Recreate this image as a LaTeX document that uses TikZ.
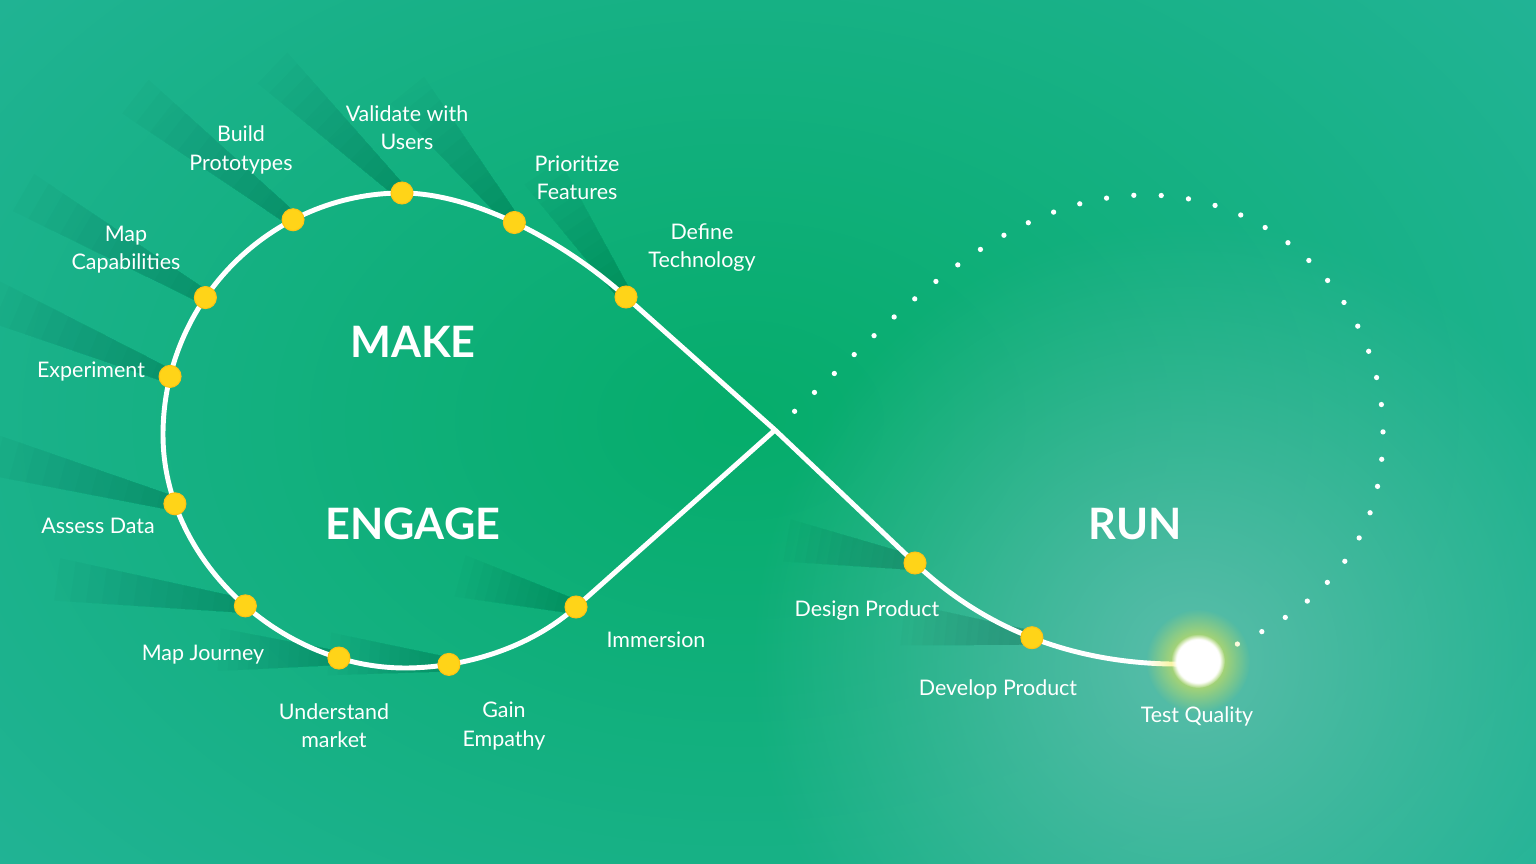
\documentclass[tikz,border=0pt]{standalone}
\usepackage{fontspec}
\setmainfont{Lato}
\usetikzlibrary{positioning,fadings}
\definecolor{bgteal}{HTML}{22B496}
\definecolor{bggreen}{HTML}{06AD6B}
\definecolor{bglight}{HTML}{5ABDAB}
\definecolor{dotyellow}{HTML}{FFD418}
\definecolor{shadowgreen}{HTML}{034A33}
\definecolor{glowyellow}{HTML}{F4EA45}
\tikzfading[name=softspot, inner color=transparent!0, outer color=transparent!100]
\pgfdeclarelayer{back}
\pgfdeclarelayer{shade}
\pgfsetlayers{back,shade,main}

\begin{document}
\begin{tikzpicture}[x=0.01cm,y=-0.01cm,
  milestone/.style={circle,fill=dotyellow,draw=dotyellow!80!orange,line width=0.3pt,minimum size=0.22cm,inner sep=0pt},
  tag/.style={text=white,font=\fontsize{6.1}{8}\selectfont,align=center},
  bigword/.style={text=white,font=\fontsize{12.3}{14}\selectfont\bfseries},
  road/.style={white,line width=1.4pt,line join=round},
  trail/.style={white,line width=1.5pt,line cap=round,dash pattern=on 0pt off 7.8pt,dash phase=0.1pt}]
\useasboundingbox (0,0) rectangle (1536,864);

\coordinate (X) at (775,430);
\coordinate (D) at (626,297);
\coordinate (T) at (402,193);
\coordinate (L) at (163,435);
\coordinate (B) at (405,668);
\coordinate (I) at (576,607);
\coordinate (P) at (915,563);
\coordinate (E) at (1185,664);
\coordinate (G) at (1198,661);
\coordinate (Q) at (880,330);
\coordinate (U) at (1146,195);
\coordinate (R) at (1383,432);

\begin{pgfonlayer}{back}
\clip (0,0) rectangle (1536,864);
\fill[bgteal] (0,0) rectangle (1536,864);
\fill[bggreen,path fading=softspot] (740,420) ellipse (1000 and 700);
\fill[bglight,path fading=softspot] (1190,660) circle (440);
\end{pgfonlayer}

\draw[road] (E) .. controls (1120,665) and (1009,653) .. (P)
  node[milestone,pos=0.6] (developdot) {} node[milestone,pos=1] (designdot) {}
  -- (X) -- (D) node[milestone] (definedot) {}
  .. controls (559,237) and (470,193) .. (T)
  node[milestone,pos=0.5] (priodot) {} node[milestone,pos=1] (validdot) {}
  .. controls (272,193) and (163,300) .. (L)
  node[milestone,pos=0.3] (builddot) {} node[milestone,pos=0.62] (mapcapdot) {}
  node[milestone,pos=0.85] (experdot) {}
  .. controls (163,560) and (280,668) .. (B)
  node[milestone,pos=0.19] (assessdot) {} node[milestone,pos=0.53] (journeydot) {}
  node[milestone,pos=0.82] (marketdot) {}
  .. controls (455,668) and (524,653) .. (I)
  node[milestone,pos=0.27] (empathydot) {} node[milestone,pos=1] (immersdot) {}
  -- (X);

\draw[trail] (X) -- (Q) .. controls (960,255) and (1046,195) .. (U)
  .. controls (1276,195) and (1383,302) .. (R)
  .. controls (1383,580) and (1275,630) .. (G);

\begin{pgfonlayer}{shade}
\foreach \d/\a/\l in {definedot/124/150,priodot/129/170,validdot/136/180,builddot/142/200,
  mapcapdot/150/210,experdot/157/200,assessdot/165/200,journeydot/172/190,
  marketdot/176/120,empathydot/175/120,immersdot/165/120,designdot/170/130,developdot/174/130}
  \foreach \k in {1,...,12}
    \fill[shadowgreen,opacity=0.025,shift={(\d)},rotate=\a]
      (0,-7) -- (\k*\l/12,-7-\k*1.2) -- (\k*\l/12,7+\k*1.2) -- (0,7) -- cycle;
\end{pgfonlayer}

\fill[glowyellow,path fading=softspot] (G) circle (52);
\fill[white,path fading=circle with fuzzy edge 20 percent] (G) circle (27);

\node[tag] (validlbl) at (407,128) {Validate with\\Users};
\node[tag] (buildlbl) at (241,150) {Build\\Prototypes};
\node[tag] (priolbl) at (577,178) {Prioritize\\Features};
\node[tag] (definelbl) at (702,248) {Define\\Technology};
\node[tag] (mapcaplbl) at (126,250) {Map\\Capabilities};
\node[tag] (experlbl) at (91,372) {Experiment};
\node[tag] (assesslbl) at (98,526) {Assess Data};
\node[tag] (journeylbl) at (203,655) {Map Journey};
\node[tag] (marketlbl) at (334,726) {Understand\\market};
\node[tag] (empathylbl) at (504,726) {Gain\\Empathy};
\node[tag] (immerslbl) at (656,640) {Immersion};
\node[tag] (designlbl) at (867,611) {Design Product};
\node[tag] (developlbl) at (998,689) {Develop Product};
\node[tag] (testlbl) at (1197,716) {Test Quality};

\node[bigword] (make) at (413,342) {MAKE};
\node[bigword] (engage) at (413,524) {ENGAGE};
\node[bigword] (run) at (1135,524) {RUN};
\end{tikzpicture}
\end{document}
